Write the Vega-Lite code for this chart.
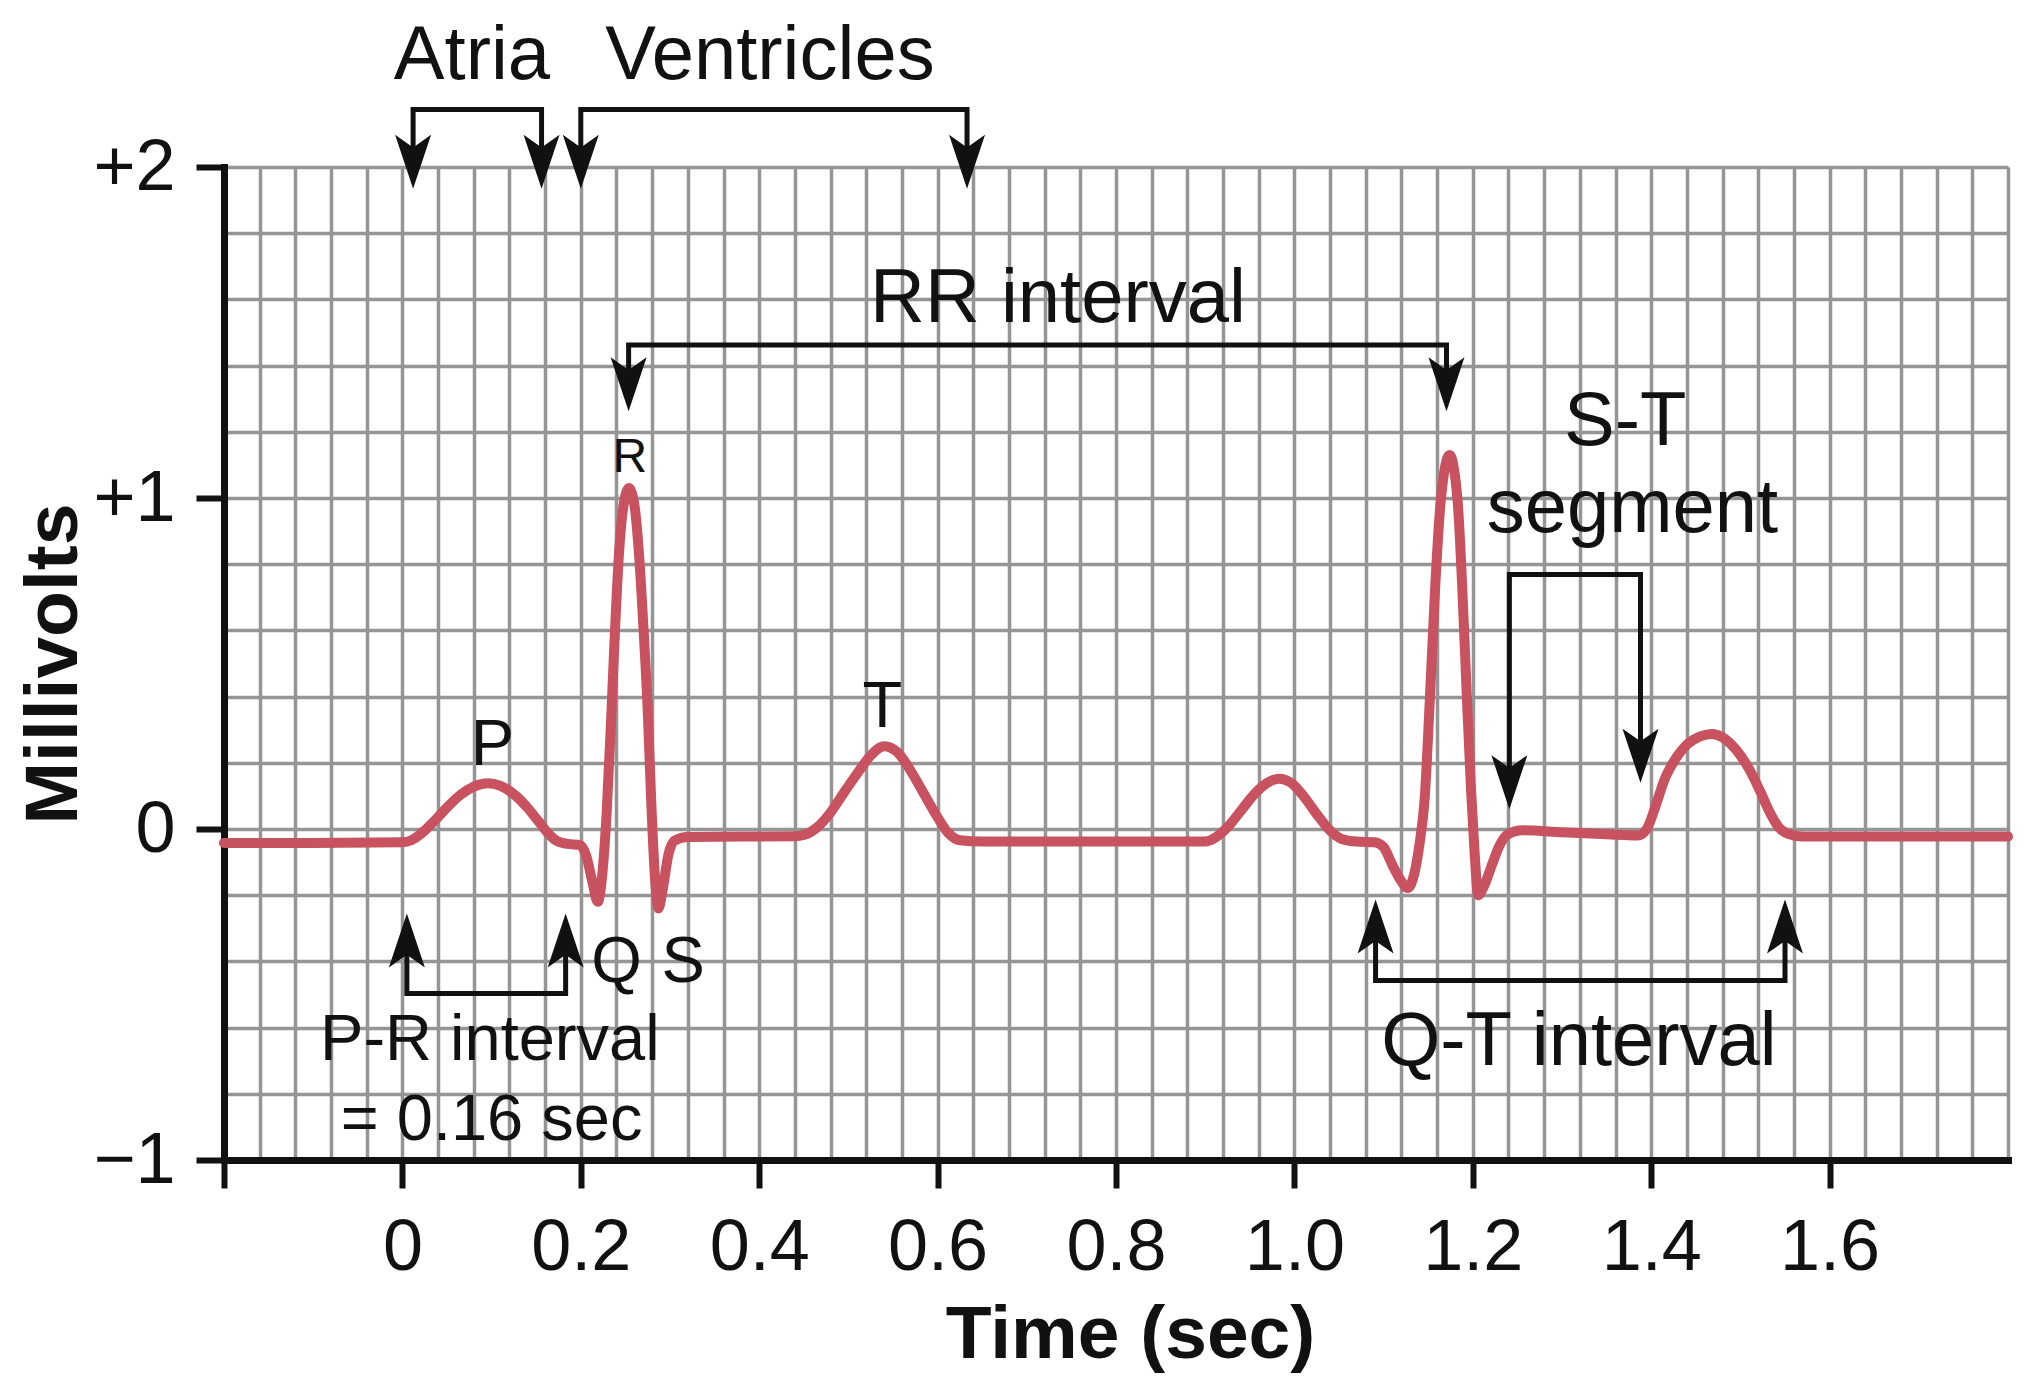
{
  "$schema": "https://vega.github.io/schema/vega-lite/v6.json",
  "width": 1784,
  "height": 993,
  "autosize": {"type": "none"},
  "padding": {"left": 224, "top": 167, "right": 18, "bottom": 231},
  "background": "white",
  "config": {"font": "Liberation Sans", "view": {"stroke": null}},
  "datasets": {
    "ecg": [
      {"t": -0.2, "mv": -0.042}, {"t": -0.1, "mv": -0.042}, {"t": 0.0, "mv": -0.04}, {"t": 0.01, "mv": -0.034},
      {"t": 0.022, "mv": -0.012}, {"t": 0.035, "mv": 0.022}, {"t": 0.05, "mv": 0.065}, {"t": 0.065, "mv": 0.103},
      {"t": 0.08, "mv": 0.128}, {"t": 0.096, "mv": 0.138}, {"t": 0.11, "mv": 0.13}, {"t": 0.125, "mv": 0.105},
      {"t": 0.14, "mv": 0.065}, {"t": 0.152, "mv": 0.025}, {"t": 0.163, "mv": -0.012}, {"t": 0.173, "mv": -0.036},
      {"t": 0.185, "mv": -0.045}, {"t": 0.199, "mv": -0.048}, {"t": 0.206, "mv": -0.08}, {"t": 0.213, "mv": -0.16},
      {"t": 0.219, "mv": -0.22}, {"t": 0.224, "mv": -0.14}, {"t": 0.229, "mv": 0.05}, {"t": 0.234, "mv": 0.33},
      {"t": 0.238, "mv": 0.58}, {"t": 0.243, "mv": 0.84}, {"t": 0.248, "mv": 0.98}, {"t": 0.254, "mv": 1.03},
      {"t": 0.26, "mv": 0.98}, {"t": 0.265, "mv": 0.84}, {"t": 0.27, "mv": 0.62}, {"t": 0.275, "mv": 0.36},
      {"t": 0.279, "mv": 0.08}, {"t": 0.283, "mv": -0.14}, {"t": 0.287, "mv": -0.24}, {"t": 0.292, "mv": -0.18},
      {"t": 0.298, "mv": -0.08}, {"t": 0.305, "mv": -0.035}, {"t": 0.32, "mv": -0.024}, {"t": 0.44, "mv": -0.022},
      {"t": 0.45, "mv": -0.018}, {"t": 0.465, "mv": 0.005}, {"t": 0.48, "mv": 0.05}, {"t": 0.495, "mv": 0.11},
      {"t": 0.51, "mv": 0.168}, {"t": 0.525, "mv": 0.222}, {"t": 0.54, "mv": 0.25}, {"t": 0.555, "mv": 0.232},
      {"t": 0.57, "mv": 0.175}, {"t": 0.585, "mv": 0.105}, {"t": 0.6, "mv": 0.035}, {"t": 0.612, "mv": -0.012},
      {"t": 0.625, "mv": -0.034}, {"t": 0.65, "mv": -0.038}, {"t": 0.9, "mv": -0.038}, {"t": 0.912, "mv": -0.025},
      {"t": 0.925, "mv": 0.005}, {"t": 0.94, "mv": 0.055}, {"t": 0.955, "mv": 0.105}, {"t": 0.97, "mv": 0.14},
      {"t": 0.983, "mv": 0.152}, {"t": 0.997, "mv": 0.138}, {"t": 1.01, "mv": 0.1}, {"t": 1.025, "mv": 0.045},
      {"t": 1.04, "mv": -0.005}, {"t": 1.053, "mv": -0.03}, {"t": 1.07, "mv": -0.038}, {"t": 1.09, "mv": -0.04},
      {"t": 1.1, "mv": -0.055}, {"t": 1.11, "mv": -0.11}, {"t": 1.118, "mv": -0.15}, {"t": 1.127, "mv": -0.178},
      {"t": 1.134, "mv": -0.14}, {"t": 1.14, "mv": -0.05}, {"t": 1.146, "mv": 0.09}, {"t": 1.152, "mv": 0.4},
      {"t": 1.158, "mv": 0.74}, {"t": 1.164, "mv": 0.99}, {"t": 1.174, "mv": 1.13}, {"t": 1.183, "mv": 0.99},
      {"t": 1.188, "mv": 0.74}, {"t": 1.193, "mv": 0.42}, {"t": 1.198, "mv": 0.12}, {"t": 1.202, "mv": -0.07},
      {"t": 1.206, "mv": -0.2}, {"t": 1.213, "mv": -0.17}, {"t": 1.222, "mv": -0.104}, {"t": 1.23, "mv": -0.05},
      {"t": 1.238, "mv": -0.018}, {"t": 1.256, "mv": -0.004}, {"t": 1.3, "mv": -0.01}, {"t": 1.35, "mv": -0.016},
      {"t": 1.385, "mv": -0.02}, {"t": 1.395, "mv": 0.0}, {"t": 1.405, "mv": 0.07}, {"t": 1.415, "mv": 0.15},
      {"t": 1.428, "mv": 0.215}, {"t": 1.44, "mv": 0.255}, {"t": 1.455, "mv": 0.28}, {"t": 1.468, "mv": 0.287},
      {"t": 1.48, "mv": 0.277}, {"t": 1.495, "mv": 0.24}, {"t": 1.51, "mv": 0.18}, {"t": 1.522, "mv": 0.115},
      {"t": 1.533, "mv": 0.05}, {"t": 1.543, "mv": 0.005}, {"t": 1.555, "mv": -0.016}, {"t": 1.57, "mv": -0.023},
      {"t": 1.8, "mv": -0.023}
    ],
    "brackets": [
      {"id": "atria", "i": 0, "t": 0.012, "mv": 2.034}, {"id": "atria", "i": 1, "t": 0.012, "mv": 2.174},
      {"id": "atria", "i": 2, "t": 0.156, "mv": 2.174}, {"id": "atria", "i": 3, "t": 0.156, "mv": 2.034},
      {"id": "ventricles", "i": 0, "t": 0.2, "mv": 2.034}, {"id": "ventricles", "i": 1, "t": 0.2, "mv": 2.174},
      {"id": "ventricles", "i": 2, "t": 0.633, "mv": 2.174}, {"id": "ventricles", "i": 3, "t": 0.633, "mv": 2.034},
      {"id": "rr", "i": 0, "t": 0.2536, "mv": 1.362}, {"id": "rr", "i": 1, "t": 0.2536, "mv": 1.462},
      {"id": "rr", "i": 2, "t": 1.1705, "mv": 1.462}, {"id": "rr", "i": 3, "t": 1.1705, "mv": 1.362},
      {"id": "pr", "i": 0, "t": 0.005, "mv": -0.355}, {"id": "pr", "i": 1, "t": 0.005, "mv": -0.497},
      {"id": "pr", "i": 2, "t": 0.183, "mv": -0.497}, {"id": "pr", "i": 3, "t": 0.183, "mv": -0.355},
      {"id": "qt", "i": 0, "t": 1.091, "mv": -0.313}, {"id": "qt", "i": 1, "t": 1.091, "mv": -0.458},
      {"id": "qt", "i": 2, "t": 1.55, "mv": -0.458}, {"id": "qt", "i": 3, "t": 1.55, "mv": -0.313},
      {"id": "st", "i": 0, "t": 1.241, "mv": 0.16}, {"id": "st", "i": 1, "t": 1.241, "mv": 0.769},
      {"id": "st", "i": 2, "t": 1.388, "mv": 0.769}, {"id": "st", "i": 3, "t": 1.388, "mv": 0.24}
    ],
    "arrows": [
      {"t": 0.012, "mv": 1.934, "dir": "down"}, {"t": 0.156, "mv": 1.934, "dir": "down"},
      {"t": 0.2, "mv": 1.934, "dir": "down"}, {"t": 0.633, "mv": 1.934, "dir": "down"},
      {"t": 0.2536, "mv": 1.262, "dir": "down"}, {"t": 1.1705, "mv": 1.262, "dir": "down"},
      {"t": 1.241, "mv": 0.06, "dir": "down"}, {"t": 1.388, "mv": 0.14, "dir": "down"},
      {"t": 0.005, "mv": -0.255, "dir": "up"}, {"t": 0.183, "mv": -0.255, "dir": "up"},
      {"t": 1.091, "mv": -0.213, "dir": "up"}, {"t": 1.55, "mv": -0.213, "dir": "up"}
    ],
    "labels": [
      {"text": "Atria", "t": 0.078, "mv": 2.267, "role": "large"},
      {"text": "Ventricles", "t": 0.412, "mv": 2.267, "role": "large"},
      {"text": "RR interval", "t": 0.735, "mv": 1.533, "role": "large"},
      {"text": "S-T", "t": 1.371, "mv": 1.16, "role": "large"},
      {"text": "segment", "t": 1.379, "mv": 0.898, "role": "large"},
      {"text": "Q-T interval", "t": 1.319, "mv": -0.713, "role": "large"},
      {"text": "P-R interval", "t": 0.098, "mv": -0.698, "role": "medium"},
      {"text": "= 0.16 sec", "t": 0.1, "mv": -0.94, "role": "medium"},
      {"text": "P", "t": 0.1008, "mv": 0.193, "role": "medium"},
      {"text": "T", "t": 0.538, "mv": 0.308, "role": "medium"},
      {"text": "Q", "t": 0.24, "mv": -0.462, "role": "medium"},
      {"text": "S", "t": 0.3147, "mv": -0.462, "role": "medium"},
      {"text": "R", "t": 0.255, "mv": 1.08, "role": "small"}
    ]
  },
  "encoding": {
    "x": {
      "field": "t", "type": "quantitative",
      "scale": {"domain": [-0.2, 1.8], "nice": false, "zero": false},
      "axis": {
        "values": [-0.2, -0.16, -0.12, -0.08, -0.04, 0, 0.04, 0.08, 0.12, 0.16, 0.2, 0.24, 0.28, 0.32, 0.36, 0.4, 0.44, 0.48, 0.52, 0.56, 0.6, 0.64, 0.68, 0.72, 0.76, 0.8, 0.84, 0.88, 0.92, 0.96, 1, 1.04, 1.08, 1.12, 1.16, 1.2, 1.24, 1.28, 1.32, 1.36, 1.4, 1.44, 1.48, 1.52, 1.56, 1.6, 1.64, 1.68, 1.72, 1.76, 1.8],
        "grid": true, "gridColor": "#959595", "gridWidth": 3.5,
        "gridOpacity": {"condition": {"test": "datum.value < -0.19", "value": 0}, "value": 1},
        "domain": true, "domainColor": "#111111", "domainWidth": 7, "domainCap": "square",
        "ticks": true, "tickSize": 28, "tickWidth": 6, "tickColor": "#111111",
        "tickOpacity": {"condition": {"test": "abs(datum.value*5 - round(datum.value*5)) < 0.001 && datum.value < 1.7", "value": 1}, "value": 0},
        "labelExpr": "abs(datum.value*5 - round(datum.value*5)) < 0.001 && datum.value > -0.1 && datum.value < 1.7 ? (abs(datum.value) < 0.001 ? '0' : format(datum.value, '.1f')) : ''",
        "labelFont": "Liberation Sans", "labelFontSize": 72, "labelColor": "#111111", "labelPadding": 24,
        "labelFlush": false, "labelOverlap": false,
        "title": "Time (sec)", "titleFont": "Liberation Sans", "titleFontSize": 75, "titleFontWeight": "bold",
        "titleColor": "#111111", "titlePadding": 15, "titleX": 906
      }
    },
    "y": {
      "field": "mv", "type": "quantitative",
      "scale": {"domain": [-1, 2], "nice": false, "zero": false},
      "axis": {
        "values": [-1, -0.8, -0.6, -0.4, -0.2, 0, 0.2, 0.4, 0.6, 0.8, 1, 1.2, 1.4, 1.6, 1.8, 2],
        "grid": true, "gridColor": "#959595", "gridWidth": 3.5,
        "gridOpacity": {"condition": {"test": "datum.value < -0.99", "value": 0}, "value": 1},
        "domain": true, "domainColor": "#111111", "domainWidth": 7, "domainCap": "square",
        "ticks": true, "tickSize": 28, "tickWidth": 6, "tickColor": "#111111",
        "tickOpacity": {"condition": {"test": "abs(datum.value - round(datum.value)) < 0.001", "value": 1}, "value": 0},
        "labelExpr": "abs(datum.value - round(datum.value)) < 0.001 ? (datum.value > 0.5 ? '+' + format(datum.value, 'd') : (datum.value < -0.5 ? '−' + format(-datum.value, 'd') : '0')) : ''",
        "labelFont": "Liberation Sans", "labelFontSize": 72, "labelColor": "#111111", "labelPadding": 21,
        "labelOverlap": false,
        "title": "Millivolts", "titleFont": "Liberation Sans", "titleFontSize": 75, "titleFontWeight": "bold",
        "titleColor": "#111111", "titlePadding": 0
      }
    }
  },
  "layer": [
    {
      "data": {"name": "ecg"},
      "mark": {"type": "line", "color": "#c8525f", "strokeWidth": 10, "interpolate": "monotone", "strokeJoin": "round", "strokeCap": "round"}
    },
    {
      "data": {"name": "brackets"},
      "mark": {"type": "line", "color": "#111111", "strokeWidth": 5, "strokeJoin": "miter", "strokeCap": "square"},
      "encoding": {"detail": {"field": "id", "type": "nominal"}, "order": {"field": "i", "type": "quantitative"}}
    },
    {
      "data": {"name": "arrows"},
      "mark": {"type": "point", "filled": true, "color": "#111111", "size": 1296, "strokeWidth": 0, "opacity": 1},
      "encoding": {
        "shape": {"field": "dir", "type": "nominal", "scale": {"domain": ["down", "up"], "range": ["M0,0L-1,-3L0,-2.3L1,-3Z", "M0,0L-1,3L0,2.3L1,3Z"]}, "legend": null}
      }
    },
    {
      "data": {"name": "labels"},
      "transform": [{"filter": "datum.role == 'large'"}],
      "mark": {"type": "text", "fontSize": 76, "color": "#111111", "align": "center", "baseline": "alphabetic"},
      "encoding": {"text": {"field": "text", "type": "nominal"}}
    },
    {
      "data": {"name": "labels"},
      "transform": [{"filter": "datum.role == 'medium'"}],
      "mark": {"type": "text", "fontSize": 65, "color": "#111111", "align": "center", "baseline": "alphabetic"},
      "encoding": {"text": {"field": "text", "type": "nominal"}}
    },
    {
      "data": {"name": "labels"},
      "transform": [{"filter": "datum.role == 'small'"}],
      "mark": {"type": "text", "fontSize": 48, "color": "#111111", "align": "center", "baseline": "alphabetic"},
      "encoding": {"text": {"field": "text", "type": "nominal"}}
    }
  ]
}
